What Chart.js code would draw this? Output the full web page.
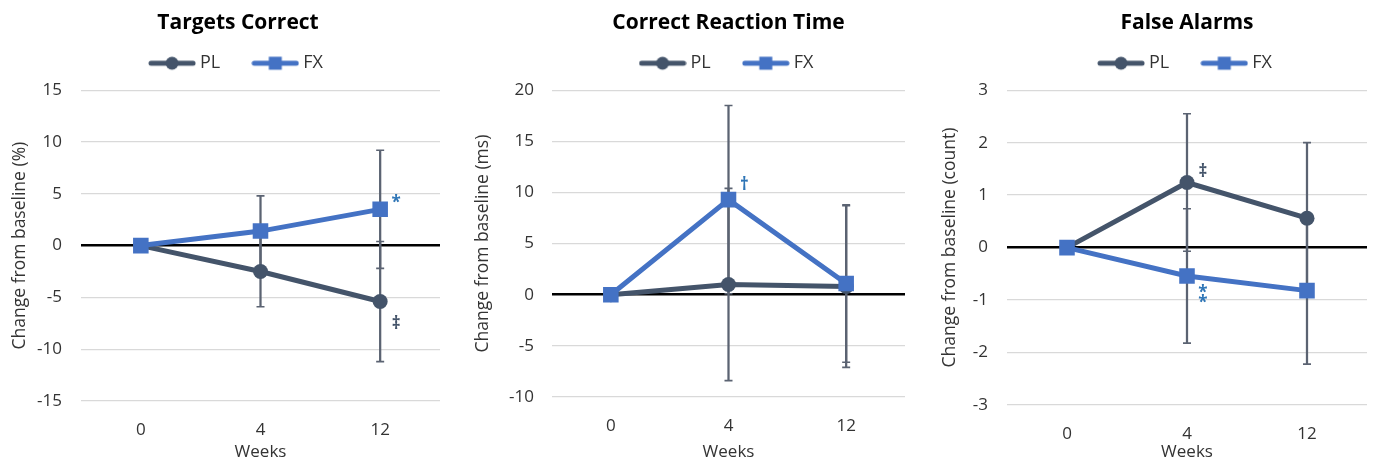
<!DOCTYPE html>
<html>
<head>
<meta charset="utf-8">
<script src="https://cdn.jsdelivr.net/npm/chart.js@4.4.1/dist/chart.umd.min.js"></script>
<style>
  html, body { margin: 0; padding: 0; background: #fff; }
  #wrap { position: relative; width: 1378px; height: 463px; overflow: hidden; }
  #wrap canvas { position: absolute; left: 0; top: 0; }
</style>
</head>
<body>
<div id="wrap">
  <canvas id="targets-chart" width="1378" height="463"></canvas>
  <canvas id="rt-chart" width="1378" height="463"></canvas>
  <canvas id="fa-chart" width="1378" height="463"></canvas>
</div>
<script>
'use strict';

// --- Data ---
const weeks = ['0', '4', '12'];

// Targets Correct, change from baseline (%)
const targetsPL = [0, -2.5, -5.4];
const targetsFX = [0, 1.4, 3.5];
const targetsPLErr = [null, 3.4, 5.8];
const targetsFXErr = [null, 3.4, 5.7];
const targetsRange = [-15, 15, 5];

// Correct Reaction Time, change from baseline (ms)
const rtPL = [0, 1.0, 0.8];
const rtFX = [0, 9.3, 1.1];
const rtPLErr = [null, 9.4, 7.9];
const rtFXErr = [null, 9.2, 7.7];
const rtRange = [-10, 20, 5];

// False Alarms, change from baseline (count)
const faPL = [0, 1.24, 0.56];
const faFX = [0, -0.54, -0.82];
const faPLErr = [null, 1.31, 1.44];
const faFXErr = [null, 1.28, 1.40];
const faRange = [-3, 3, 1];

// significance marks: [week index, y value, symbol, series]
const targetsNotes = [[2, 4.1, '*', 'FX'], [2, -7.6, '‡', 'PL']];
const rtNotes = [[1, 10.7, '†', 'FX']];
const faNotes = [[1, 1.44, '‡', 'PL'], [1, -0.87, '*', 'FX'], [1, -1.06, '*', 'FX']];

// --- Styles ---
const PL_COLOR = '#44546A';
const FX_COLOR = '#4472C4';
const ERR_COLOR = '#5B6372';
const NOTE_BLUE = '#2E75B6';
const TEXT_COLOR = '#333333';
const FONT = '"Open Sans", "DejaVu Sans", sans-serif';

// legend glyph: thick line with the series marker in the middle
function legendIcon(color, shape) {
  const c = document.createElement('canvas');
  c.width = 48; c.height = 16;
  const g = c.getContext('2d');
  g.strokeStyle = color; g.fillStyle = color;
  g.lineWidth = 5; g.lineCap = 'round';
  g.beginPath(); g.moveTo(3, 8); g.lineTo(45, 8); g.stroke();
  if (shape === 'circle') {
    g.beginPath(); g.arc(24, 8, 6.5, 0, Math.PI * 2); g.fill();
  } else {
    g.fillRect(17.5, 1.5, 13, 13);
  }
  return c;
}
const legendIcons = { PL: legendIcon(PL_COLOR, 'circle'), FX: legendIcon(FX_COLOR, 'rect') };

function buildChart(canvasId, cfg) {
  const range = (vals, errs) => vals.map((v, i) => errs[i] == null ? null : [v - errs[i], v + errs[i]]);
  const low = (vals, errs) => vals.map((v, i) => errs[i] == null ? null : v - errs[i]);
  const high = (vals, errs) => vals.map((v, i) => errs[i] == null ? null : v + errs[i]);

  const errBar = data => ({
    type: 'bar', label: '_err', data, backgroundColor: ERR_COLOR, borderWidth: 0,
    barThickness: 1.6, grouped: false, order: 3
  });
  const errCap = data => ({
    type: 'line', label: '_cap', data, showLine: false, pointStyle: 'line',
    pointRadius: 4, pointBorderWidth: 1.6, pointBorderColor: ERR_COLOR, order: 2
  });

  const b = cfg.box;

  const notesPlugin = {
    id: 'sigNotes',
    afterDatasetsDraw(chart) {
      const { ctx, scales: { x, y } } = chart;
      ctx.save();
      ctx.font = 'bold 17px ' + FONT;
      ctx.textAlign = 'center';
      ctx.textBaseline = 'middle';
      cfg.notes.forEach(([i, v, sym, series]) => {
        ctx.fillStyle = series === 'FX' ? NOTE_BLUE : PL_COLOR;
        ctx.fillText(sym, x.getPixelForValue(i) + 16, y.getPixelForValue(v));
      });
      ctx.restore();
    }
  };

  return new Chart(document.getElementById(canvasId), {
    type: 'line',
    data: {
      labels: weeks,
      datasets: [
        { label: 'PL', data: cfg.pl, borderColor: PL_COLOR, backgroundColor: PL_COLOR, borderWidth: 5,
          pointStyle: 'circle', pointRadius: 7.5, pointBorderWidth: 0, pointBackgroundColor: PL_COLOR, order: 1 },
        { label: 'FX', data: cfg.fx, borderColor: FX_COLOR, backgroundColor: FX_COLOR, borderWidth: 5,
          pointStyle: 'rect', pointRadius: 11, pointBorderWidth: 0, pointBackgroundColor: FX_COLOR, order: 0 },
        errBar(range(cfg.pl, cfg.plErr)),
        errBar(range(cfg.fx, cfg.fxErr)),
        errCap(low(cfg.pl, cfg.plErr)),
        errCap(high(cfg.pl, cfg.plErr)),
        errCap(low(cfg.fx, cfg.fxErr)),
        errCap(high(cfg.fx, cfg.fxErr))
      ]
    },
    options: {
      responsive: false,
      animation: false,
      devicePixelRatio: 1,
      layout: { padding: { left: b.left, right: 1378 - b.plotRight, top: 0, bottom: 0 } },
      elements: { line: { tension: 0 } },
      plugins: {
        tooltip: { enabled: false },
        title: {
          display: true, text: cfg.title, color: '#000', fullSize: b.fullSize,
          font: { family: FONT, size: 21, weight: 'bold' },
          padding: { top: 10, bottom: -17 }
        },
        legend: {
          display: true, position: 'top', fullSize: b.fullSize,
          labels: {
            usePointStyle: true, pointStyleWidth: 38, padding: 36,
            color: TEXT_COLOR, font: { family: FONT, size: 18 },
            sort: (a, c) => a.datasetIndex - c.datasetIndex,
            generateLabels: chart => Chart.defaults.plugins.legend.labels.generateLabels(chart)
              .filter(it => legendIcons[it.text])
              .map(it => Object.assign(it, { pointStyle: legendIcons[it.text] }))
          }
        }
      },
      scales: {
        x: {
          type: 'category', offset: true,
          grid: { display: false }, border: { display: false },
          ticks: { color: TEXT_COLOR, font: { family: FONT, size: 17 }, padding: 11 },
          title: { display: true, text: 'Weeks', color: TEXT_COLOR, font: { family: FONT, size: 17 },
                   padding: { top: 0, bottom: 1 } },
          afterFit: s => { s.height = 463 - b.plotBottom; }
        },
        xTop: {
          type: 'category', position: 'top', labels: weeks,
          grid: { display: false }, border: { display: false }, ticks: { display: false },
          afterFit: s => { s.height = 8; }
        },
        y: {
          min: cfg.range[0], max: cfg.range[1],
          ticks: { stepSize: cfg.range[2], color: TEXT_COLOR, font: { family: FONT, size: 17 }, padding: b.tickGap },
          grid: {
            drawTicks: false,
            color: c => c.tick.value === 0 ? '#000000' : '#D9D9D9',
            lineWidth: c => c.tick.value === 0 ? 2.5 : 1.3
          },
          border: { display: false },
          title: { display: true, text: cfg.yTitle, color: TEXT_COLOR, font: { family: FONT, size: 17.5 },
                   padding: { top: b.yTitleX - b.left - 10.5, bottom: 0 } },
          afterFit: s => { s.width = b.plotLeft - b.left; }
        }
      }
    },
    plugins: [notesPlugin]
  });
}

buildChart('targets-chart', {
  title: 'Targets Correct', yTitle: 'Change from baseline (%)',
  pl: targetsPL, fx: targetsFX, plErr: targetsPLErr, fxErr: targetsFXErr,
  notes: targetsNotes, range: targetsRange,
  box: { left: 36, plotLeft: 81, plotRight: 440, plotBottom: 401, yTitleX: 20, tickGap: 19, fullSize: true }
});

buildChart('rt-chart', {
  title: 'Correct Reaction Time', yTitle: 'Change from baseline (ms)',
  pl: rtPL, fx: rtFX, plErr: rtPLErr, fxErr: rtFXErr,
  notes: rtNotes, range: rtRange,
  box: { left: 505, plotLeft: 552, plotRight: 905, plotBottom: 397, yTitleX: 483, tickGap: 18, fullSize: false }
});

buildChart('fa-chart', {
  title: 'False Alarms', yTitle: 'Change from baseline (count)',
  pl: faPL, fx: faFX, plErr: faPLErr, fxErr: faFXErr,
  notes: faNotes, range: faRange,
  box: { left: 970, plotLeft: 1007, plotRight: 1371, plotBottom: 405, yTitleX: 950, tickGap: 19, fullSize: false }
});
</script>
</body>
</html>
